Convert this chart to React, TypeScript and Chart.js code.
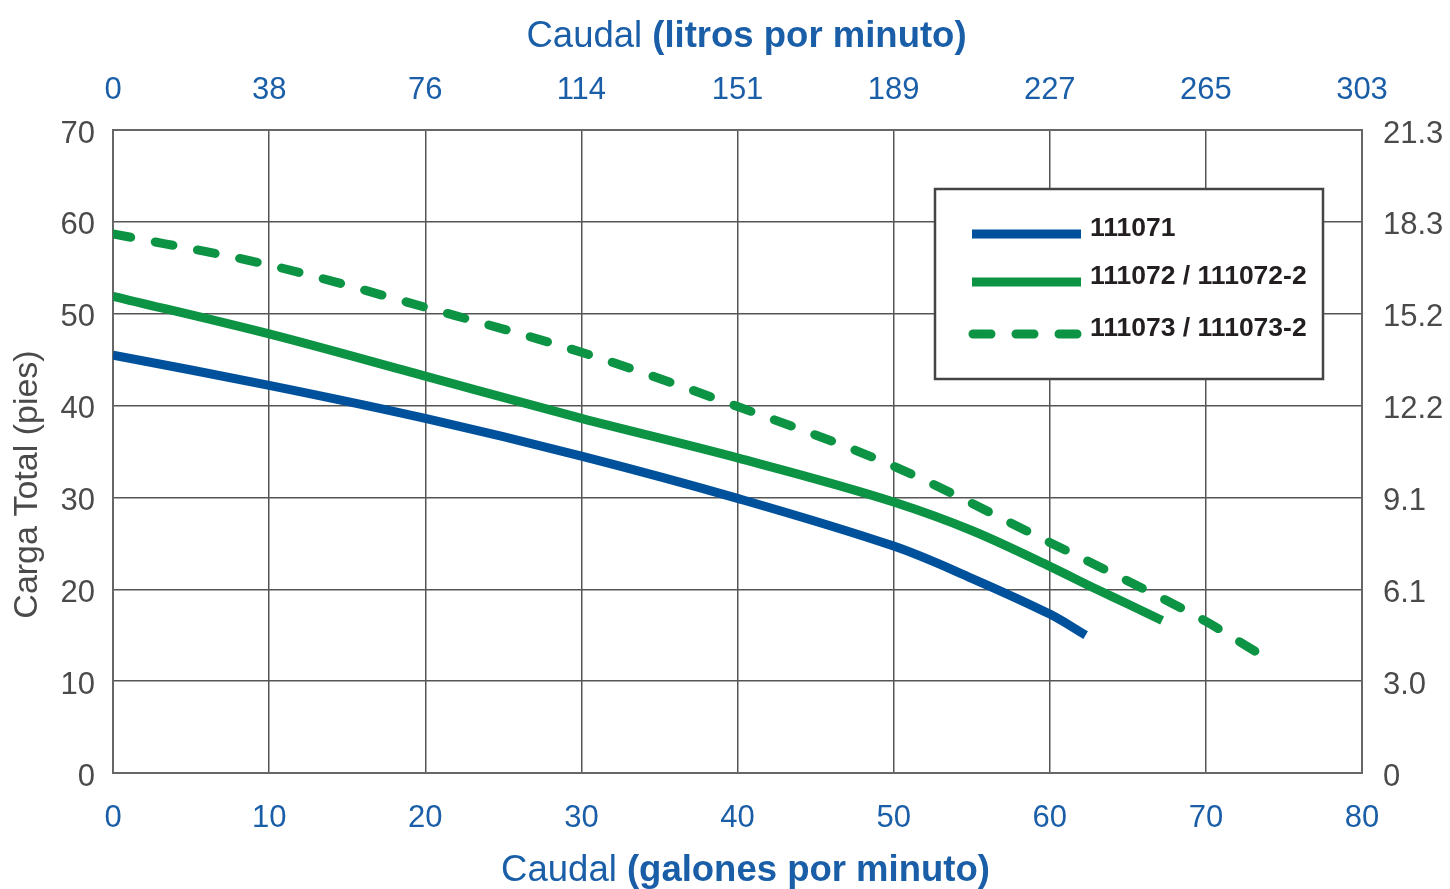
import React, { useEffect, useRef } from "react";
import { Chart, registerables } from "chart.js";

Chart.register(...registerables);

// ---- Data ----
const GPM_MAX = 80;
const HEAD_MAX = 70;
const LPM_LABELS = ["0", "38", "76", "114", "151", "189", "227", "265", "303"];
const METER_LABELS = ["0", "3.0", "6.1", "9.1", "12.2", "15.2", "18.3", "21.3"];

const SERIES_NAMES = ["111071", "111072 / 111072-2", "111073 / 111073-2"];

const S1_GPM = [0, 10, 20, 30, 40, 50, 55, 60, 62.3];
const S1_HEAD = [45.5, 42.2, 38.6, 34.5, 29.9, 24.7, 21.2, 17.3, 15.0];

const S2_GPM = [0, 10, 20, 30, 40, 50, 55, 60, 63, 65, 67.2];
const S2_HEAD = [51.9, 47.8, 43.2, 38.6, 34.3, 29.5, 26.4, 22.5, 20.0, 18.4, 16.6];

const S3_GPM = [0, 10, 20, 30, 40, 50, 60, 65, 70, 73.2];
const S3_HEAD = [58.7, 55.3, 50.7, 45.8, 39.9, 33.4, 25.1, 20.9, 16.5, 13.2];

const BLUE = "#00519c";
const GREEN = "#0c9444";
const TEXT_BLUE = "#1a5ea8";
const GRAY_TEXT = "#4a4a4a";
const FONT = "'Liberation Sans', Arial, Helvetica, sans-serif";

const toPts = (xs: number[], ys: number[]) => xs.map((x, i) => ({ x, y: ys[i] }));

function drawMixed(
  ctx: CanvasRenderingContext2D,
  parts: { text: string; bold: boolean }[],
  size: number,
  color: string,
  cx: number,
  cy: number
) {
  const fonts = parts.map((p) => `${p.bold ? "bold " : ""}${size}px ${FONT}`);
  let total = 0;
  const widths = parts.map((p, i) => {
    ctx.font = fonts[i];
    const w = ctx.measureText(p.text).width;
    total += w;
    return w;
  });
  let x = cx - total / 2;
  ctx.fillStyle = color;
  ctx.textBaseline = "middle";
  ctx.textAlign = "left";
  parts.forEach((p, i) => {
    ctx.font = fonts[i];
    ctx.fillText(p.text, x, cy);
    x += widths[i];
  });
}

const decorPlugin = {
  id: "decor",
  afterDraw(chart: any) {
    const { ctx, chartArea } = chart;
    const { left, right, top, bottom } = chartArea;
    ctx.save();
    // Top title
    drawMixed(
      ctx,
      [
        { text: "Caudal ", bold: false },
        { text: "(litros por minuto)", bold: true },
      ],
      36.5,
      TEXT_BLUE,
      (left + right) / 2 + 9,
      top - 93
    );
    // Bottom title
    drawMixed(
      ctx,
      [
        { text: "Caudal ", bold: false },
        { text: "(galones por minuto)", bold: true },
      ],
      36.5,
      TEXT_BLUE,
      (left + right) / 2 + 8,
      bottom + 98
    );
    // Left title
    ctx.save();
    ctx.translate(28, (top + bottom) / 2 + 33);
    ctx.rotate(-Math.PI / 2);
    drawMixed(ctx, [{ text: "Carga Total (pies)", bold: false }], 34, GRAY_TEXT, 0, 0);
    ctx.restore();

    // Legend box
    const bx = left + (935 - 113);
    const by = top + (189 - 130);
    const bw = 388;
    const bh = 190;
    ctx.fillStyle = "#ffffff";
    ctx.fillRect(bx, by, bw, bh);
    ctx.strokeStyle = "#444444";
    ctx.lineWidth = 2.5;
    ctx.strokeRect(bx, by, bw, bh);

    const ds = chart.data.datasets;
    const rows = [by + 45, by + 93, by + 145];
    ds.forEach((d: any, i: number) => {
      const y = rows[i];
      ctx.save();
      ctx.strokeStyle = d.borderColor;
      ctx.lineWidth = 9;
      if (d.borderDash && d.borderDash.length) {
        ctx.setLineDash([18, 25]);
        ctx.lineCap = "round";
        ctx.beginPath();
        ctx.moveTo(bx + 38, y);
        ctx.lineTo(bx + 150, y);
        ctx.stroke();
      } else {
        ctx.lineCap = "butt";
        ctx.beginPath();
        ctx.moveTo(bx + 37, y);
        ctx.lineTo(bx + 146, y);
        ctx.stroke();
      }
      ctx.restore();
      ctx.fillStyle = "#231f20";
      ctx.font = `bold 26.5px ${FONT}`;
      ctx.textAlign = "left";
      ctx.textBaseline = "middle";
      ctx.fillText(d.label, bx + 155, y - 5);
    });
    ctx.restore();
  },
};

export default function App() {
  const ref = useRef<HTMLCanvasElement | null>(null);

  useEffect(() => {
    if (!ref.current) return;
    const tickFont = { family: FONT, size: 31, weight: "normal" as const };
    const chart = new Chart(ref.current, {
      type: "line",
      data: {
        datasets: [
          {
            label: SERIES_NAMES[0],
            data: toPts(S1_GPM, S1_HEAD),
            borderColor: BLUE,
            borderWidth: 9,
            pointRadius: 0,
            tension: 0.35,
            borderCapStyle: "butt",
            fill: false,
            xAxisID: "x",
            yAxisID: "y",
          },
          {
            label: SERIES_NAMES[1],
            data: toPts(S2_GPM, S2_HEAD),
            borderColor: GREEN,
            borderWidth: 9,
            pointRadius: 0,
            cubicInterpolationMode: "monotone",
            borderCapStyle: "butt",
            fill: false,
            xAxisID: "x",
            yAxisID: "y",
          },
          {
            label: SERIES_NAMES[2],
            data: toPts(S3_GPM, S3_HEAD),
            borderColor: GREEN,
            borderWidth: 9,
            borderDash: [18, 25],
            pointRadius: 0,
            cubicInterpolationMode: "monotone",
            borderCapStyle: "round",
            fill: false,
            xAxisID: "x",
            yAxisID: "y",
          },
        ],
      },
      options: {
        animation: false,
        responsive: true,
        maintainAspectRatio: false,
        layout: { padding: 0 },
        plugins: {
          legend: { display: false },
          tooltip: { enabled: false },
        },
        scales: {
          x: {
            type: "linear",
            position: "bottom",
            min: 0,
            max: GPM_MAX,
            ticks: {
              stepSize: 10,
              color: TEXT_BLUE,
              font: tickFont,
              padding: 27,
              maxRotation: 0,
            },
            grid: { color: "#555555", lineWidth: 1.5, drawTicks: false },
            border: { display: true, color: "#666666", width: 2 },
            afterFit: (s: any) => {
              s.height = 116;
            },
          },
          x2: {
            type: "linear",
            position: "top",
            min: 0,
            max: GPM_MAX,
            ticks: {
              stepSize: 10,
              color: TEXT_BLUE,
              font: tickFont,
              padding: 21,
              maxRotation: 0,
              callback: (v: any) => LPM_LABELS[Math.round(Number(v) / 10)] ?? "",
            },
            grid: { display: false, drawTicks: false },
            border: { display: true, color: "#666666", width: 2 },
            afterFit: (s: any) => {
              s.height = 130;
            },
          },
          y: {
            type: "linear",
            position: "left",
            min: 0,
            max: HEAD_MAX,
            ticks: {
              stepSize: 10,
              color: GRAY_TEXT,
              font: tickFont,
              padding: 18,
              labelOffset: 4,
            },
            grid: { color: "#555555", lineWidth: 1.5, drawTicks: false },
            border: { display: true, color: "#666666", width: 2 },
            afterFit: (s: any) => {
              s.width = 113;
            },
          },
          y2: {
            type: "linear",
            position: "right",
            min: 0,
            max: HEAD_MAX,
            ticks: {
              stepSize: 10,
              color: GRAY_TEXT,
              font: tickFont,
              padding: 21,
              labelOffset: 4,
              callback: (v: any) => METER_LABELS[Math.round(Number(v) / 10)] ?? "",
            },
            grid: { display: false, drawTicks: false },
            border: { display: true, color: "#666666", width: 2 },
            afterFit: (s: any) => {
              s.width = 88;
            },
          },
        },
      },
      plugins: [decorPlugin],
    } as any);
    return () => chart.destroy();
  }, []);

  return (
    <div
      style={{
        position: "absolute",
        left: 0,
        top: 0,
        width: 1450,
        height: 889,
        background: "#ffffff",
      }}
    >
      <canvas ref={ref} />
    </div>
  );
}
